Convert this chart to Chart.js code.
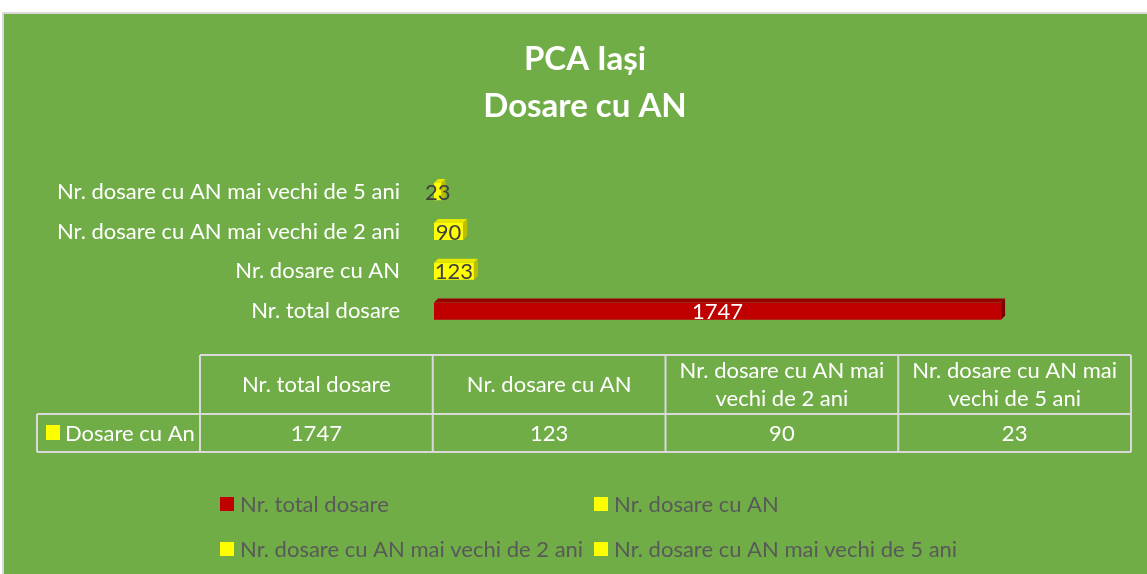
<!DOCTYPE html>
<html>
<head>
<meta charset="utf-8">
<script src="https://cdn.jsdelivr.net/npm/chart.js@4"></script>
<style>
  html, body { margin: 0; padding: 0; background: #ffffff; }
  canvas { display: block; }
</style>
</head>
<body>
<canvas id="anChart" width="1147" height="574"></canvas>
<script>
// data
const categories = [
    'Nr. total dosare',
    'Nr. dosare cu AN',
    'Nr. dosare cu AN mai vechi de 2 ani',
    'Nr. dosare cu AN mai vechi de 5 ani'
];
const values = [1747, 123, 90, 23];
const barColors = ['#C00000', '#FFFF00', '#FFFF00', '#FFFF00'];
const topColors = ['#990000', '#E6E600', '#E6E600', '#E6E600'];
const sideColors = ['#7A0000', '#BDBD00', '#BDBD00', '#BDBD00'];
const labelColors = ['#FFFFFF', '#404040', '#404040', '#404040'];
const seriesName = 'Dosare cu An';
const titleLines = ['PCA Iași', 'Dosare cu AN'];
const axisMax = 2175;

const FONT = 'Lato';
const TXT = 22;
const GREEN = '#70AD47';

// green panel behind everything
const background = {
    id: 'background',
    beforeDraw(chart) {
        const c = chart.ctx;
        c.save();
        c.fillStyle = '#FFFFFF';
        c.fillRect(0, 0, chart.width, chart.height);
        c.fillStyle = '#D9D9D9';
        c.fillRect(2, 12, chart.width - 2, chart.height - 12);
        c.fillStyle = GREEN;
        c.fillRect(4, 14, chart.width - 4, chart.height - 14);
        c.restore();
    }
};

// fake 3d depth + value labels
const depth3d = {
    id: 'depth3d',
    afterDatasetsDraw(chart) {
        const c = chart.ctx;
        const meta = chart.getDatasetMeta(0);
        const d = 4;
        c.save();
        meta.data.forEach((bar, i) => {
            const p = bar.getProps(['x', 'y', 'base', 'height'], true);
            const top = p.y - p.height / 2;
            const bottom = p.y + p.height / 2;
            c.fillStyle = topColors[i];
            c.beginPath();
            c.moveTo(p.base, top);
            c.lineTo(p.x, top);
            c.lineTo(p.x + d, top - d);
            c.lineTo(p.base + d, top - d);
            c.closePath();
            c.fill();
            c.fillStyle = sideColors[i];
            c.beginPath();
            c.moveTo(p.x, top);
            c.lineTo(p.x + d, top - d);
            c.lineTo(p.x + d, bottom - d);
            c.lineTo(p.x, bottom);
            c.closePath();
            c.fill();
        });
        c.font = TXT + 'px ' + FONT;
        c.textAlign = 'center';
        c.textBaseline = 'middle';
        meta.data.forEach((bar, i) => {
            const p = bar.getProps(['x', 'y', 'base'], true);
            c.fillStyle = labelColors[i];
            c.fillText(String(values[i]), (p.x + p.base) / 2, p.y + 1);
        });
        c.restore();
    }
};

function wrapText(c, text, maxW) {
    const words = text.split(' ');
    const lines = [];
    let line = '';
    words.forEach(w => {
        const test = line ? line + ' ' + w : w;
        if (c.measureText(test).width > maxW && line) {
            lines.push(line);
            line = w;
        } else {
            line = test;
        }
    });
    lines.push(line);
    return lines;
}

// data table + legend under the plot
const tableAndLegend = {
    id: 'tableAndLegend',
    afterDraw(chart) {
        const c = chart.ctx;
        const x0 = 37, x1 = 200, x2 = 1131;
        const y0 = 355, y1 = 414, y2 = 452;
        const colW = (x2 - x1) / categories.length;
        c.save();
        c.strokeStyle = '#D9D9D9';
        c.lineWidth = 2;
        c.beginPath();
        c.moveTo(x1, y0); c.lineTo(x2, y0);
        c.moveTo(x0, y1); c.lineTo(x2, y1);
        c.moveTo(x0, y2); c.lineTo(x2, y2);
        c.moveTo(x0, y1); c.lineTo(x0, y2);
        for (let i = 0; i <= categories.length; i++) {
            c.moveTo(x1 + i * colW, y0);
            c.lineTo(x1 + i * colW, y2);
        }
        c.stroke();

        c.font = TXT + 'px ' + FONT;
        c.fillStyle = '#FFFFFF';
        c.textAlign = 'center';
        c.textBaseline = 'middle';
        categories.forEach((cat, i) => {
            const cx = x1 + colW * (i + 0.5);
            const lines = wrapText(c, cat, colW - 8);
            const lh = 28;
            const startY = (y0 + y1) / 2 - (lines.length - 1) * lh / 2;
            lines.forEach((ln, j) => c.fillText(ln, cx, startY + j * lh));
            c.fillText(String(values[i]), cx, (y1 + y2) / 2 + 1);
        });

        // row header
        c.fillStyle = '#FFFF00';
        c.fillRect(46, 425, 14, 15);
        c.fillStyle = '#FFFFFF';
        c.textAlign = 'left';
        c.fillText(seriesName, 65, (y1 + y2) / 2 + 1);

        // legend, two columns
        const legX = [220, 594];
        const legY = [504, 549];
        categories.forEach((cat, i) => {
            const lx = legX[i % 2];
            const ly = legY[Math.floor(i / 2)];
            c.fillStyle = barColors[i];
            c.fillRect(lx, ly - 7, 14, 14);
            c.fillStyle = '#595959';
            c.fillText(cat, lx + 20, ly + 1);
        });
        c.restore();
    }
};

const ctx = document.getElementById('anChart');

new Chart(ctx, {
    type: 'bar',
    data: {
        labels: categories,
        datasets: [{
            label: seriesName,
            data: values,
            backgroundColor: barColors,
            borderWidth: 0,
            barPercentage: 0.43,
            categoryPercentage: 1
        }]
    },
    options: {
        indexAxis: 'y',
        responsive: false,
        devicePixelRatio: 1,
        animation: false,
        layout: {
            padding: { left: 30, right: 7, top: 0, bottom: 243 }
        },
        plugins: {
            legend: { display: false },
            tooltip: { enabled: false },
            title: {
                display: true,
                text: titleLines,
                color: '#FFFFFF',
                font: { family: FONT, size: 33, weight: 'bold', lineHeight: 1.45 },
                padding: { top: 35, bottom: 41 }
            }
        },
        scales: {
            x: {
                display: false,
                min: 0,
                max: axisMax
            },
            y: {
                reverse: true,
                grid: { display: false },
                border: { display: false },
                ticks: {
                    color: '#FFFFFF',
                    padding: 26,
                    font: { family: FONT, size: TXT }
                },
                afterFit(scale) {
                    scale.width = 404;
                }
            }
        }
    },
    plugins: [background, depth3d, tableAndLegend]
});
</script>
</body>
</html>
